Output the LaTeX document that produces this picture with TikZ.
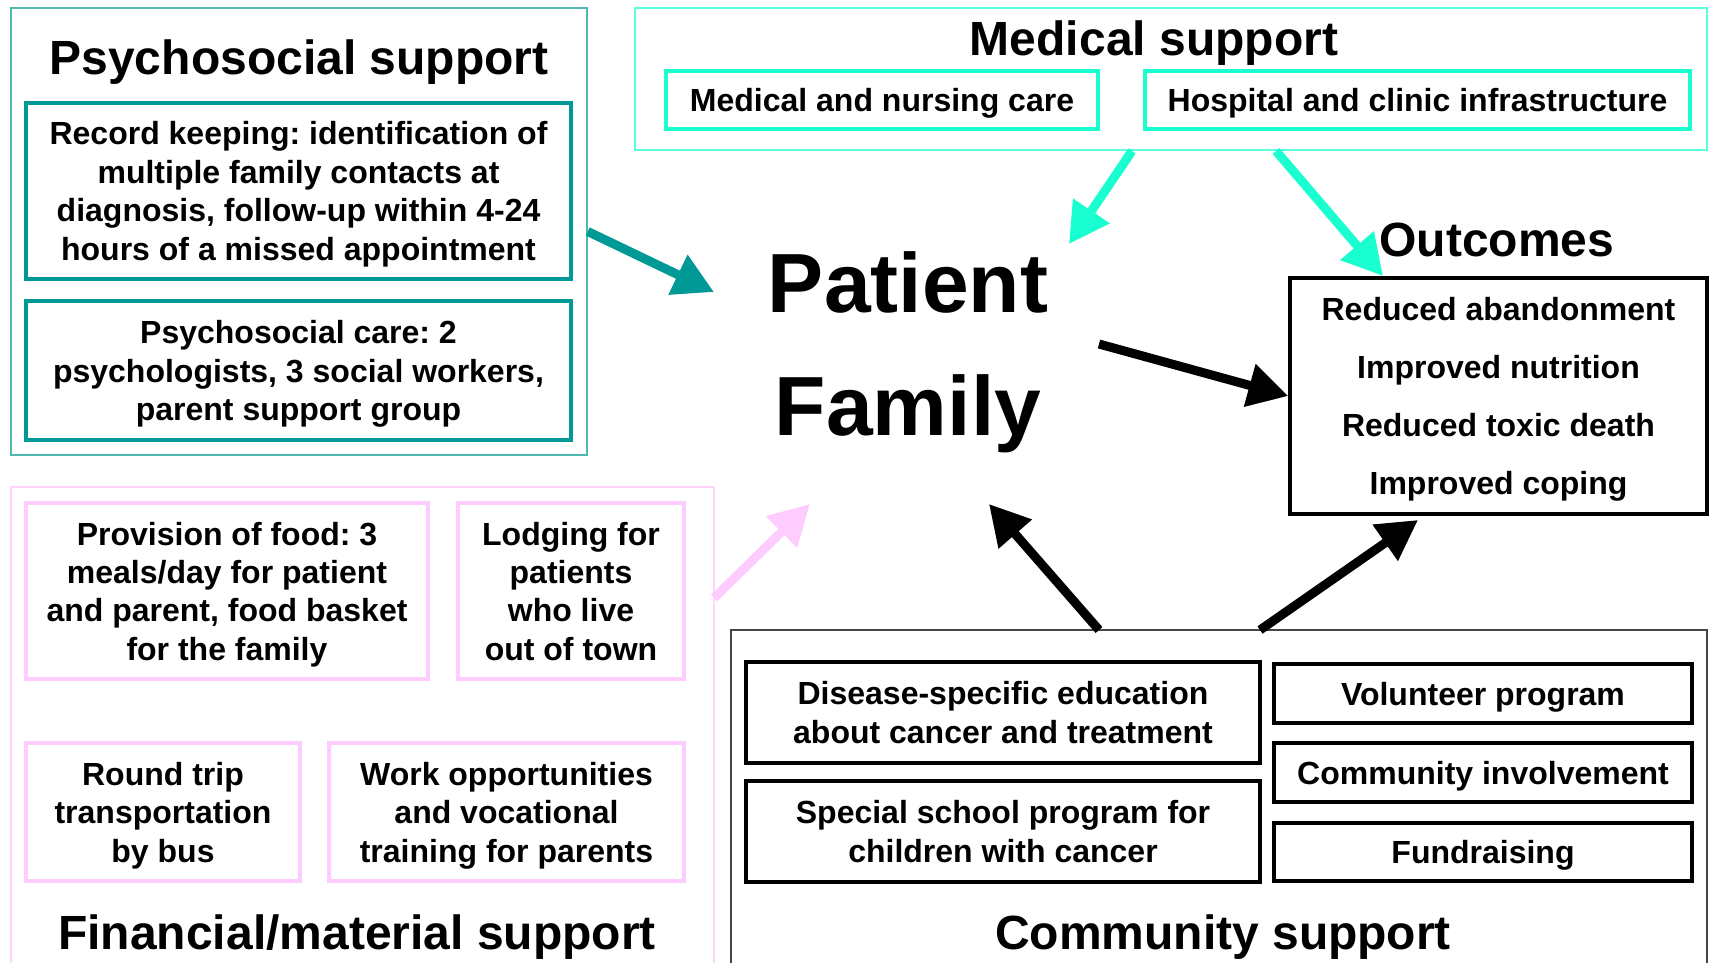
\documentclass[tikz,border=0pt]{standalone}
\usepackage{fontspec}
\setmainfont{Liberation Sans}
\usetikzlibrary{arrows.meta}
\frenchspacing
\definecolor{tealA}{RGB}{0,153,150}
\definecolor{tealO}{RGB}{80,184,178}
\definecolor{cyanA}{RGB}{25,255,208}
\definecolor{cyanO}{RGB}{90,255,222}
\definecolor{pinkA}{RGB}{255,204,255}
\definecolor{pinkO}{RGB}{255,214,250}
\definecolor{grayO}{RGB}{70,70,70}
\tikzset{
  txt/.style={font=\fontsize{32}{38.4}\selectfont\bfseries, align=center, inner sep=0pt, text depth=0pt},
  ttl/.style={font=\fontsize{48}{56}\selectfont\bfseries, inner sep=0pt, text depth=0pt},
  big/.style={font=\fontsize{84}{100}\selectfont\bfseries, inner sep=0pt, text depth=0pt},
  outer/.style={draw=#1, line width=1.5pt, inner sep=0pt},
  ibox/.style={txt, draw=#1, line width=3.5pt},
  arr/.style={draw=#1, line width=9pt, -{Triangle[length=40pt,width=42pt]}},
}
\begin{document}
\begin{tikzpicture}[x=1pt,y=-1pt]
\useasboundingbox (0,0) rectangle (1710,963);
\clip (0,0) rectangle (1710,963);
\fill[white] (0,0) rectangle (1710,963);

% Psychosocial
\node[outer=tealO, minimum width=576pt, minimum height=447pt] (psyO) at (299,231.5) {};
\node[ttl] (psyT) at (299,57) {Psychosocial support};
\node[ibox=tealA, minimum width=545pt, minimum height=176pt] (rec) at (298.5,191)
  {Record keeping: identification of\\multiple family contacts at\\diagnosis, follow-up within 4-24\\hours of a missed appointment};
\node[ibox=tealA, minimum width=545pt, minimum height=139pt] (psy) at (298.5,370.5)
  {Psychosocial care: 2\\psychologists, 3 social workers,\\parent support group};

% Medical
\node[outer=cyanO, minimum width=1072pt, minimum height=142pt] (medO) at (1171,79) {};
\node[ttl] (medT) at (1154,38) {Medical support};
\node[ibox=cyanA, minimum width=432pt, minimum height=58pt] (mnc) at (882,100) {Medical and nursing care};
\node[ibox=cyanA, minimum width=545pt, minimum height=58pt] (hos) at (1417.5,100) {Hospital and clinic infrastructure};

% Patient Family
\node[big] (pat) at (908,282) {Patient};
\node[big] (fam) at (908,405) {Family};

% Outcomes
\node[ttl] (outT) at (1497,240) {Outcomes};
\node[txt, draw=black, line width=3.5pt, minimum width=417pt, minimum height=236pt,
      font=\fontsize{32}{58}\selectfont\bfseries] (out) at (1498.5,396)
  {Reduced abandonment\\Improved nutrition\\Reduced toxic death\\Improved coping};

% Financial
\draw[pinkO, line width=1.5pt] (11,975) -- (11,487) -- (714,487) -- (714,975);
\coordinate (finE) at (714,598);
\node[ibox=pinkA, minimum width=402pt, minimum height=176pt] (food) at (227,591)
  {Provision of food: 3\\meals/day for patient\\and parent, food basket\\for the family};
\node[ibox=pinkA, minimum width=226pt, minimum height=176pt] (lodg) at (571,591)
  {Lodging for\\patients\\who live\\out of town};
\node[ibox=pinkA, minimum width=274pt, minimum height=138pt] (bus) at (163,812)
  {Round trip\\transportation\\by bus};
\node[ibox=pinkA, minimum width=355pt, minimum height=138pt] (work) at (506.5,812)
  {Work opportunities\\and vocational\\training for parents};
\node[ttl] (finT) at (357,932) {Financial/material support};

% Community
\draw[grayO, line width=1.5pt] (731,975) -- (731,630) -- (1707,630) -- (1707,975);
\node[ibox=black, minimum width=514pt, minimum height=101pt] (dis) at (1003,712.5)
  {Disease-specific education\\about cancer and treatment};
\node[ibox=black, minimum width=514pt, minimum height=101pt] (sch) at (1003,831.5)
  {Special school program for\\children with cancer};
\node[ibox=black, minimum width=418pt, minimum height=59pt] (vol) at (1483,693.5) {Volunteer program};
\node[ibox=black, minimum width=418pt, minimum height=59pt] (ci) at (1483,772.5) {Community involvement};
\node[ibox=black, minimum width=418pt, minimum height=58pt] (fund) at (1483,852) {Fundraising};
\node[ttl] (comT) at (1223,932) {Community support};

% arrow end points
\coordinate (tealE) at (714,292);
\coordinate (c1S) at (1132,151);
\coordinate (c1E) at (1069,244);
\coordinate (c2S) at (1276,151);
\coordinate (c2E) at (1383,276);
\coordinate (pinkE) at (810,504);
\coordinate (b1S) at (1099,344);
\coordinate (b2S) at (1099,630);
\coordinate (b2E) at (989,504);
\coordinate (b3S) at (1260,630);
\coordinate (b3E) at (1418,520);

\draw[arr=tealA] (psyO.east) -- (tealE);
\draw[arr=cyanA] (c1S) -- (c1E);
\draw[arr=cyanA] (c2S) -- (c2E);
\draw[arr=pinkA] (finE) -- (pinkE);
\draw[arr=black] (b1S) -- (out.west);
\draw[arr=black] (b2S) -- (b2E);
\draw[arr=black] (b3S) -- (b3E);
\end{tikzpicture}
\end{document}
